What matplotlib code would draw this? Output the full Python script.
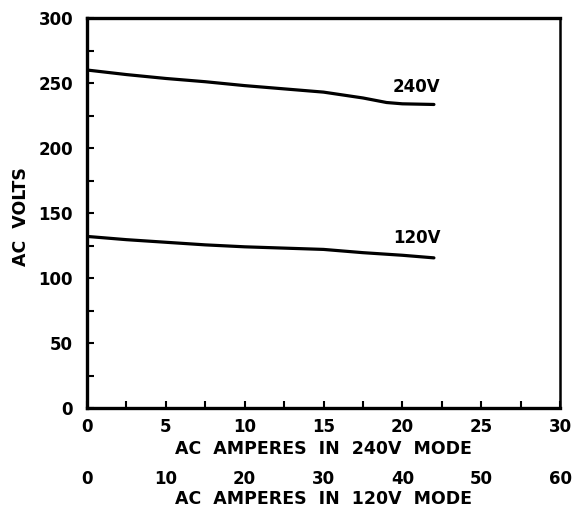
import numpy as np
import matplotlib
matplotlib.use("Agg")
import matplotlib.pyplot as plt
from matplotlib.ticker import MultipleLocator

# values (x in amperes, 240V mode scale)
amps_240 = [0, 2.5, 5, 7.5, 10, 12.5, 15, 17.5, 19, 20, 22]
volts_240 = [260, 256.5, 253.5, 251, 248, 245.5, 243, 238.5, 235, 234, 233.5]
amps_120 = [0, 2.5, 5, 7.5, 10, 12.5, 15, 17.5, 20, 22]
volts_120 = [132, 129.5, 127.5, 125.5, 124, 123, 122, 119.5, 117.5, 115.5]
x_ticks = [0, 5, 10, 15, 20, 25, 30]
x_ticks_120 = [0, 10, 20, 30, 40, 50, 60]
y_ticks = [0, 50, 100, 150, 200, 250, 300]

plt.rcParams['font.family'] = ['DejaVu Sans']
plt.rcParams['font.weight'] = 'bold'

fig = plt.figure(figsize=(5.81, 5.09), dpi=100)
ax = fig.add_axes([0.1497, 0.1984, 0.964 - 0.1497, 0.9646 - 0.1984])

ax.plot(amps_240, volts_240, color='black', lw=2.3, solid_capstyle='round')
ax.plot(amps_120, volts_120, color='black', lw=2.3, solid_capstyle='round')
ax.text(20.9, 247, '240V', ha='center', va='center', fontsize=12, fontweight='bold')
ax.text(20.9, 131, '120V', ha='center', va='center', fontsize=12, fontweight='bold')

ax.set_xlim(0, 30)
ax.set_ylim(0, 300)
ax.set_xticks(x_ticks)
ax.set_yticks(y_ticks)
ax.xaxis.set_minor_locator(MultipleLocator(2.5))
ax.yaxis.set_minor_locator(MultipleLocator(25))
ax.tick_params(which='both', direction='in', length=5, width=1.5, labelsize=12)
ax.tick_params(axis='x', pad=7)
ax.tick_params(axis='y', pad=10)
for s in ['left', 'bottom', 'top']:
    ax.spines[s].set_linewidth(2.4)
ax.spines['right'].set_linewidth(1.8)

ax.set_xlabel('AC  AMPERES  IN  240V  MODE', fontsize=12.5, fontweight='bold', labelpad=3)
ax.set_ylabel('AC  VOLTS', fontsize=12.5, fontweight='bold', labelpad=3)
ax.yaxis.set_label_coords(-0.12, 0.49)

# second amperes scale for 120V mode
ax2 = ax.secondary_xaxis(-0.16, functions=(lambda x: 2 * x, lambda x: x / 2))
ax2.set_xticks(x_ticks_120)
ax2.spines['bottom'].set_visible(False)
ax2.tick_params(length=0, labelsize=12, pad=0)
ax2.set_xlabel('AC  AMPERES  IN  120V  MODE', fontsize=12.5, fontweight='bold', labelpad=1)

fig.savefig('out.png', dpi=100)
